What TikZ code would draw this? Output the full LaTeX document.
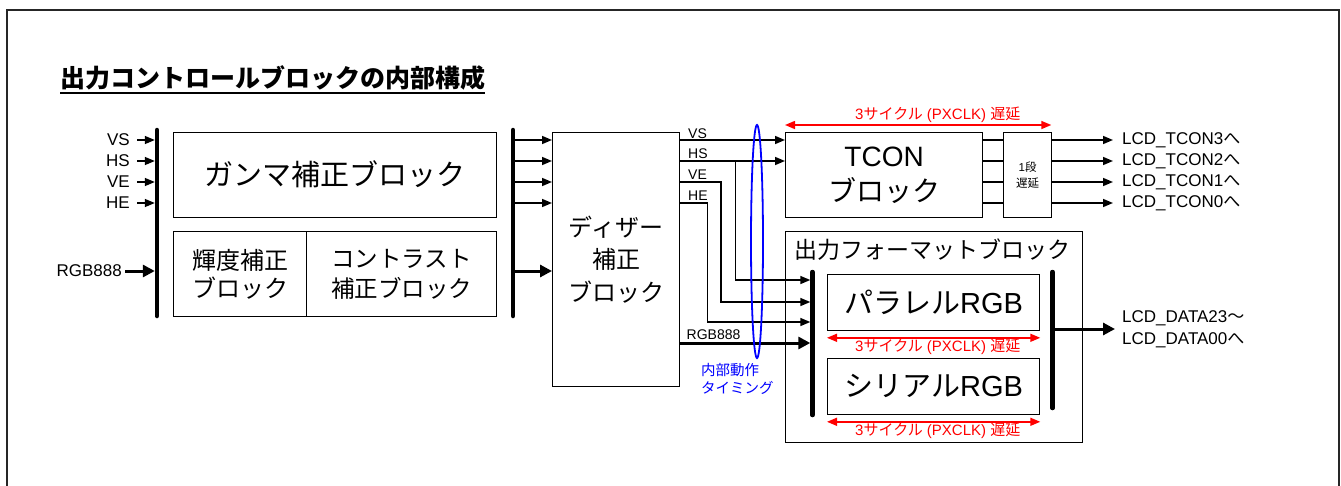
\documentclass[tikz,border=0pt]{standalone}
\usepackage{fontspec}
\setmainfont{Liberation Sans}
\newfontfamily\jp{Noto Sans CJK JP}
\usetikzlibrary{arrows.meta,calc,shapes.geometric}
\newcommand\J[1]{{\jp #1}}
\newcommand\fsz[2]{\fontsize{#1}{#2}\selectfont}
\begin{document}
\begin{tikzpicture}[x=1pt,y=-1pt,
  blk/.style={draw, line width=1.3pt, inner sep=0pt, anchor=north west},
  thinl/.style={line width=1.5pt},
  arr/.style={line width=1.5pt, -{Triangle[length=10pt,width=8pt]}},
  tarr/.style={line width=3pt, -{Triangle[length=12pt,width=12pt]}},
  bus/.style={line width=4.5pt, line cap=round},
  rarr/.style={draw=red, line width=1.5pt, {Triangle[length=10pt,width=8pt]}-{Triangle[length=10pt,width=8pt]}},
  rlab/.style={text=red, font=\fsz{15}{15}, inner sep=0pt, anchor=west},
  inlab/.style={font=\fsz{17}{17}, inner sep=0pt, anchor=east},
  siglab/.style={font=\fsz{14}{14}, inner sep=0pt, anchor=base west},
  outlab/.style={font=\fsz{17}{22}, inner sep=0pt, anchor=west, align=left}
]
\useasboundingbox (0,0) rectangle (1341,485);
% frame
\draw[line width=2pt, draw=black!85] (7,487) -- (7,9.5) -- (1339,9.5) -- (1339,487);

% title
\node[anchor=base west, inner sep=0pt, font=\fsz{25}{25}\jp\bfseries] (title) at (60,87) {出力コントロールブロックの内部構成};
\draw[line width=2pt] ([yshift=-5.5pt]title.base west) -- ([yshift=-5.5pt]title.base east);

% row coordinates
\coordinate (rVS) at (0,140);
\coordinate (rHS) at (0,161);
\coordinate (rVE) at (0,182);
\coordinate (rHE) at (0,203);
\coordinate (rRGB) at (0,271);
\coordinate (fHS) at (0,280);
\coordinate (fVE) at (0,302);
\coordinate (fHE) at (0,322);
\coordinate (fRGB) at (0,343);

% blocks
\node[blk, minimum width=323pt, minimum height=85pt, font=\fsz{29}{29}\jp] (gamma) at (173,131.5) {ガンマ補正ブロック};
\node[blk, minimum width=133pt, minimum height=84.5pt, align=center, font=\fsz{24}{28}\jp] (kido) at (173,231) {輝度補正\\ブロック};
\node[blk, minimum width=190pt, minimum height=84.5pt, align=center, font=\fsz{23.5}{30}\jp] (contr) at (306,231) {コントラスト\\補正ブロック};
\node[blk, minimum width=127pt, minimum height=254pt, align=center, font=\fsz{24}{32.5}\jp] (dither) at (552,132) {ディザー\\補正\\ブロック};
\node[blk, minimum width=197pt, minimum height=84.5pt, align=center, font=\fsz{28}{35}] (tcon) at (785,132) {TCON\\\J{ブロック}};
\node[blk, minimum width=48pt, minimum height=84.5pt, align=center, font=\fsz{11.5}{16}] (delay) at (1003,132) {1\J{段}\\\J{遅延}};
\node[blk, minimum width=297pt, minimum height=211pt] (fmt) at (785,231) {};
\node[inner sep=0pt, font=\fsz{23}{23}\jp] (fmtT) at (932.5,250) {出力フォーマットブロック};
\node[blk, minimum width=212pt, minimum height=56pt, font=\fsz{29}{29}] (par) at (827,273.5) {\J{パラレル}RGB};
\node[blk, minimum width=212pt, minimum height=55.5pt, font=\fsz{29}{29}] (ser) at (827,358) {\J{シリアル}RGB};

% bus bars
\coordinate (bL1) at (157,130); \coordinate (bL2) at (157,316);
\coordinate (bR1) at (513,130); \coordinate (bR2) at (513,316);
\coordinate (bF1) at (812.5,272); \coordinate (bF2) at (812.5,415);
\coordinate (bO1) at (1052.5,272); \coordinate (bO2) at (1052.5,408);
\draw[bus] (bL1) -- (bL2);
\draw[bus] (bR1) -- (bR2);
\draw[bus] (bF1) -- (bF2);
\draw[bus] (bO1) -- (bO2);

% left inputs
\node[inlab] (iVS) at (130,140) {VS};
\node[inlab] (iHS) at (130,161) {HS};
\node[inlab] (iVE) at (130,182) {VE};
\node[inlab] (iHE) at (130,203) {HE};
\node[inlab] (iRGB) at (122,271) {RGB888};
\foreach \n in {iVS,iHS,iVE,iHE}
  \draw[arr, shorten >=2.2pt] ([xshift=7pt]\n.east) -- (bL1 |- \n.east);
\draw[tarr, shorten >=2.2pt] ([xshift=3pt]iRGB.east) -- (bL1 |- iRGB.east);

% gamma bus to dither
\foreach \r in {rVS,rHS,rVE,rHE}
  \draw[arr] (bR1 |- \r) -- (dither.west |- \r);
\draw[tarr] (bR1 |- rRGB) -- (dither.west |- rRGB);

% dither outputs
\node[siglab] (oVS) at (688,138.3) {VS};
\node[siglab] (oHS) at (688,158.3) {HS};
\node[siglab] (oVE) at (688,179.5) {VE};
\node[siglab] (oHE) at (688,200.5) {HE};
\node[siglab] (oRGB) at (686.5,339) {RGB888};
\coordinate (jHS) at (735.7,161);
\coordinate (jVE) at (721,182);
\coordinate (jHE) at (707.7,203);
\draw[arr] (dither.east |- rVS) -- (tcon.west |- rVS);
\draw[arr] (dither.east |- rHS) -- (tcon.west |- rHS);
\draw[arr, shorten >=2.2pt] (jHS) |- (bF1 |- fHS);
\draw[arr, shorten >=2.2pt] (dither.east |- rVE) -- (jVE) |- (bF1 |- fVE);
\draw[arr, shorten >=2.2pt] (dither.east |- rHE) -- (jHE) |- (bF1 |- fHE);
\draw[tarr, shorten >=2.2pt] (dither.east |- fRGB) -- (bF1 |- fRGB);

% TCON to delay
\foreach \r in {rVS,rHS,rVE,rHE}
  \draw[thinl] (tcon.east |- \r) -- (delay.west |- \r);

% outputs
\node[outlab] (t3) at (1122,140) {LCD\_TCON3\J{へ}};
\node[outlab] (t2) at (1122,161) {LCD\_TCON2\J{へ}};
\node[outlab] (t1) at (1122,182) {LCD\_TCON1\J{へ}};
\node[outlab] (t0) at (1122,203) {LCD\_TCON0\J{へ}};
\foreach \n in {t3,t2,t1,t0}
  \draw[arr] (delay.east |- \n.west) -- ([xshift=-9pt]\n.west);
\node[outlab] (dat) at (1122,329) {LCD\_DATA23\J{～}\\LCD\_DATA00\J{へ}};
\draw[tarr] (bO1 |- dat.west) -- ([xshift=-7pt]dat.west);

% delay arrows
\draw[rarr] ([yshift=7pt]tcon.north west) -- ([yshift=7pt,xshift=-1pt]delay.north east);
\node[rlab] (d1) at (855,114.5) {3\J{サイクル} (PXCLK) \J{遅延}};
\draw[rarr] ([yshift=-7pt]par.south west) -- ([yshift=-7pt]par.south east);
\node[rlab] (d2) at (855,347) {3\J{サイクル} (PXCLK) \J{遅延}};
\draw[rarr] ([yshift=-7pt]ser.south west) -- ([yshift=-7pt]ser.south east);
\node[rlab] (d3) at (855,431) {3\J{サイクル} (PXCLK) \J{遅延}};

% timing oval
\node[draw=blue, line width=1.8pt, ellipse, inner sep=0pt, minimum width=12pt, minimum height=233pt] (oval) at (757,241.5) {};
\node[text=blue, font=\fsz{14.5}{18.5}\jp, align=left, anchor=west, inner sep=0pt] (tim) at (701,379) {内部動作\\タイミング};
\end{tikzpicture}
\end{document}
